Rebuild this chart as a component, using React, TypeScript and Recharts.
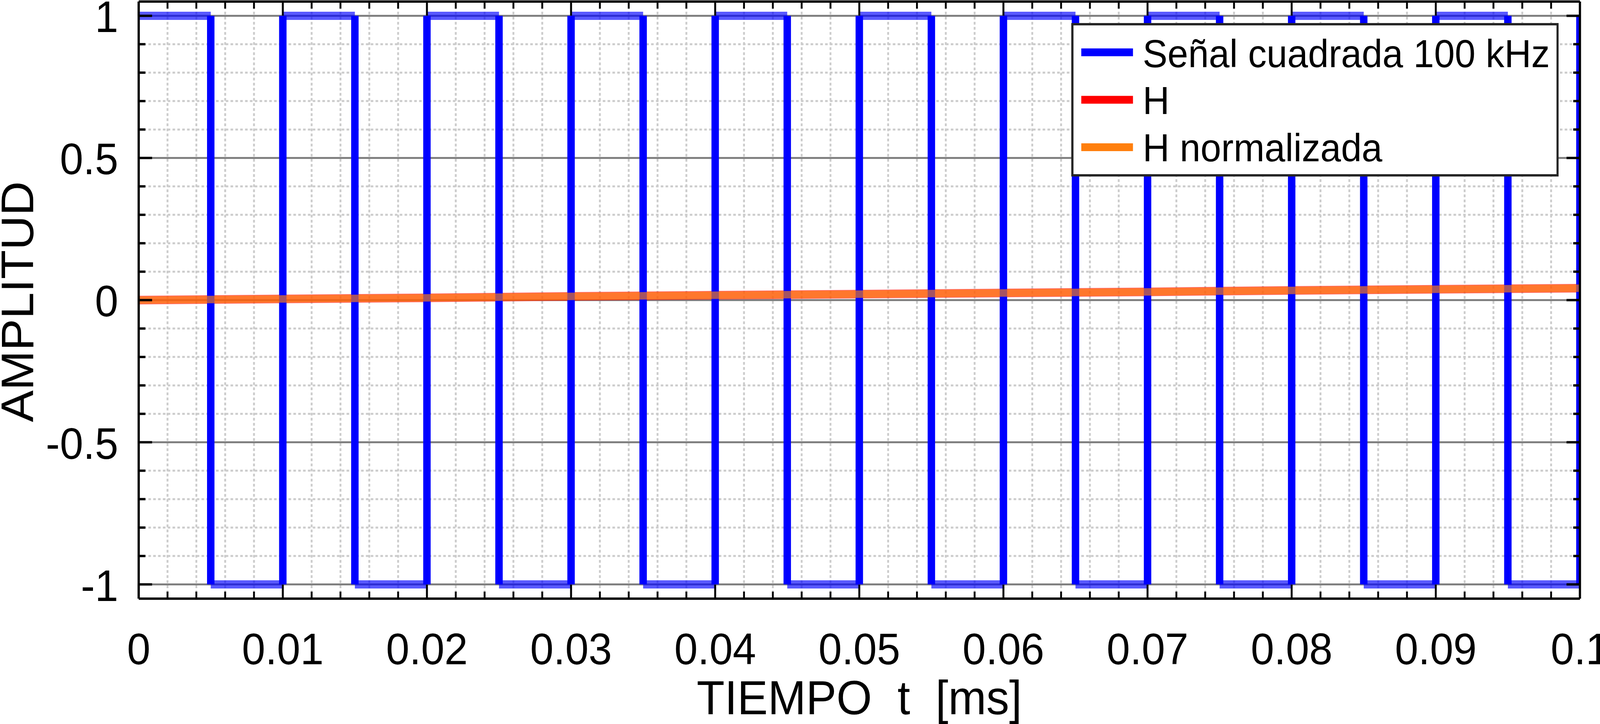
import React from "react";
import { CartesianGrid, Legend, Line, LineChart, XAxis, YAxis } from "recharts";

const FONT = '"Liberation Sans", Arial, Helvetica, sans-serif';

// square wave: breakpoint times (ms) and the level right after each breakpoint
const squareTimes = [
  0, 0.005, 0.01, 0.015, 0.02, 0.025, 0.03, 0.035, 0.04, 0.045, 0.05,
  0.055, 0.06, 0.065, 0.07, 0.075, 0.08, 0.085, 0.09, 0.095, 0.1
];
const squareLevels = [
  1, -1, 1, -1, 1, -1, 1, -1, 1, -1, 1, -1, 1, -1, 1, -1, 1, -1, 1, -1, 1
];

// filter outputs
const hTimes = [0, 0.01, 0.02, 0.03, 0.04, 0.05, 0.06, 0.07, 0.08, 0.09, 0.1];
const hValues = [0, 0.004, 0.008, 0.013, 0.017, 0.021, 0.025, 0.029, 0.034, 0.038, 0.042];
const hNormValues = [0, 0.004, 0.008, 0.013, 0.017, 0.021, 0.025, 0.029, 0.034, 0.038, 0.042];

const xMajorTicks = [0, 0.01, 0.02, 0.03, 0.04, 0.05, 0.06, 0.07, 0.08, 0.09, 0.1];
const yMajorTicks = [-1, -0.5, 0, 0.5, 1];

const legendNames = ["Señal cuadrada 100 kHz", "H", "H normalizada"];
const legendColors = ["#0000ff", "#ff0000", "#ff7f0e"];

// axis steps
const xMinorTicks = Array.from({ length: 51 }, (_, i) => (2 * i) / 1000);
const yMinorTicks = Array.from({ length: 21 }, (_, i) => (i - 10) / 10);
const xDotted = xMinorTicks.filter((v) => !xMajorTicks.includes(v));
const yDotted = yMinorTicks.filter((v) => !yMajorTicks.includes(v));

// layout (drawn at the reference size, then fitted to the viewport)
const W = 4303;
const H = 1854;
const PLOT_LEFT = 373;
const PLOT_RIGHT = 4249;
const PLOT_TOP = 4;
const PLOT_BOTTOM = 1533;

const hLines = [];
for (let i = 0; i < squareTimes.length - 1; i++) {
  hLines.push({ t: squareTimes[i], v: squareLevels[i] });
  hLines.push({ t: squareTimes[i + 1], v: squareLevels[i] });
  hLines.push({ t: squareTimes[i + 1], v: null });
}
const vLines = [];
for (let i = 1; i < squareTimes.length; i++) {
  vLines.push({ t: squareTimes[i], v: squareLevels[i - 1] });
  vLines.push({ t: squareTimes[i], v: squareLevels[i] });
  vLines.push({ t: squareTimes[i], v: null });
}
const hData = hTimes.map((t, i) => ({ t, v: hValues[i] }));
const hNormData = hTimes.map((t, i) => ({ t, v: hNormValues[i] }));

const isMajor = (v: number, majors: number[]) => majors.some((m) => Math.abs(m - v) < 1e-9);
const MINOR = 18;
const MAJOR = 36;

function BottomTick({ x, y, payload }: any) {
  const major = isMajor(payload.value, xMajorTicks);
  return (
    <g>
      <line x1={x} x2={x} y1={y} y2={y - (major ? MAJOR : MINOR)} stroke="#000" strokeWidth={5} />
      {major && (
        <text x={x} y={y + 168} textAnchor="middle" fontSize={113} fontFamily={FONT} fill="#000">
          {String(payload.value)}
        </text>
      )}
    </g>
  );
}

function TopTick({ x, y, payload }: any) {
  const major = isMajor(payload.value, xMajorTicks);
  return <line x1={x} x2={x} y1={y} y2={y + (major ? MAJOR : MINOR)} stroke="#000" strokeWidth={5} />;
}

function LeftTick({ x, y, payload }: any) {
  const major = isMajor(payload.value, yMajorTicks);
  return (
    <g>
      <line x1={x} x2={x + (major ? MAJOR : MINOR)} y1={y} y2={y} stroke="#000" strokeWidth={6} />
      {major && (
        <text x={x - 55} y={y + 42} textAnchor="end" fontSize={113} fontFamily={FONT} fill="#000">
          {String(payload.value)}
        </text>
      )}
    </g>
  );
}

function RightTick({ x, y, payload }: any) {
  const major = isMajor(payload.value, yMajorTicks);
  return <line x1={x} x2={x - (major ? MAJOR : MINOR)} y1={y} y2={y} stroke="#000" strokeWidth={6} />;
}

function LegendBox() {
  return (
    <svg width={1311} height={393} style={{ display: "block" }}>
      <rect x={3} y={3} width={1305} height={387} fill="#fff" stroke="#262626" strokeWidth={6} />
      {legendNames.map((name, i) => (
        <g key={name}>
          <line x1={27} x2={166} y1={75 + i * 121.5} y2={75 + i * 121.5} stroke={legendColors[i]} strokeWidth={20} />
          <text x={192} y={113 + i * 120.5} fontSize={100} fontFamily={FONT} fill="#000">
            {name}
          </text>
        </g>
      ))}
    </svg>
  );
}

export default function App() {
  const vw = window.innerWidth;
  const vh = window.innerHeight;
  const sx = vw / W;
  const sy = vh / H;
  return (
    <div style={{ position: "absolute", left: 0, top: 0, width: vw, height: vh, overflow: "hidden", background: "#fff" }}>
      <div style={{ width: W, height: H, transform: `scale(${sx}, ${sy})`, transformOrigin: "0 0" }}>
        <LineChart width={W} height={H} margin={{ top: 0, right: W - PLOT_RIGHT - 1, bottom: 0, left: 0 }}>
          <CartesianGrid
            stroke="#cccccc"
            strokeWidth={5}
            strokeDasharray="7 6"
            horizontalValues={yDotted}
            verticalValues={xDotted}
          />
          <CartesianGrid stroke="#808080" strokeWidth={5} horizontalValues={yMajorTicks} verticalValues={xMajorTicks} />
          <XAxis
            type="number"
            dataKey="t"
            domain={[0, 0.1]}
            allowDataOverflow
            ticks={xMinorTicks}
            interval={0}
            height={H - PLOT_BOTTOM}
            tickSize={0}
            tickMargin={0}
            tickLine={false}
            axisLine={{ stroke: "#000", strokeWidth: 6 }}
            tick={(p: any) => <BottomTick {...p} />}
            label={() => (
              <text
                x={(PLOT_LEFT + PLOT_RIGHT) / 2}
                y={1829}
                textAnchor="middle"
                fontSize={123}
                fontFamily={FONT}
                fill="#000"
                style={{ whiteSpace: "pre" }}
              >
                {"TIEMPO  t  [ms]"}
              </text>
            )}
          />
          <XAxis
            xAxisId="top"
            orientation="top"
            type="number"
            dataKey="t"
            domain={[0, 0.1]}
            allowDataOverflow
            ticks={xMinorTicks}
            interval={0}
            height={PLOT_TOP}
            tickSize={0}
            tickMargin={0}
            tickLine={false}
            axisLine={{ stroke: "#000", strokeWidth: 6 }}
            tick={(p: any) => <TopTick {...p} />}
          />
          <YAxis
            type="number"
            domain={[-1.05, 1.05]}
            allowDataOverflow
            ticks={yMinorTicks}
            interval={0}
            width={PLOT_LEFT}
            tickSize={0}
            tickMargin={0}
            tickLine={false}
            axisLine={{ stroke: "#000", strokeWidth: 6 }}
            tick={(p: any) => <LeftTick {...p} />}
            label={() => (
              <text
                transform={`translate(89, ${(PLOT_TOP + PLOT_BOTTOM) / 2 + 4}) rotate(-90)`}
                textAnchor="middle"
                fontSize={122}
                fontFamily={FONT}
                fill="#000"
              >
                AMPLITUD
              </text>
            )}
          />
          <YAxis
            yAxisId="right"
            orientation="right"
            type="number"
            domain={[-1.05, 1.05]}
            allowDataOverflow
            ticks={yMinorTicks}
            interval={0}
            width={1}
            tickSize={0}
            tickMargin={0}
            tickLine={false}
            axisLine={{ stroke: "#000", strokeWidth: 6 }}
            tick={(p: any) => <RightTick {...p} />}
          />
          <Line
            data={hData}
            dataKey="v"
            name="H"
            stroke="#ff0000"
            strokeOpacity={0.6}
            strokeWidth={22}
            strokeLinecap="butt"
            dot={false}
            activeDot={false}
            type="linear"
            isAnimationActive={false}
          />
          <Line
            data={hLines}
            dataKey="v"
            name="Señal cuadrada 100 kHz"
            stroke="#0000ff"
            strokeOpacity={0.65}
            strokeWidth={21}
            strokeLinecap="butt"
            dot={false}
            activeDot={false}
            type="linear"
            isAnimationActive={false}
          />
          <Line
            data={vLines}
            dataKey="v"
            name="edges"
            legendType="none"
            stroke="#0000ff"
            strokeWidth={20}
            strokeLinecap="butt"
            dot={false}
            activeDot={false}
            type="linear"
            isAnimationActive={false}
          />
          <Line
            data={hNormData}
            dataKey="v"
            name="H normalizada"
            stroke="#ff7f0e"
            strokeOpacity={0.65}
            strokeWidth={19}
            strokeLinecap="butt"
            dot={false}
            activeDot={false}
            type="linear"
            isAnimationActive={false}
          />
          <Legend
            layout="vertical"
            align="center"
            verticalAlign="middle"
            wrapperStyle={{ top: 59, left: 2881, width: 1311, height: 393 }}
            content={() => <LegendBox />}
          />
        </LineChart>
      </div>
    </div>
  );
}
